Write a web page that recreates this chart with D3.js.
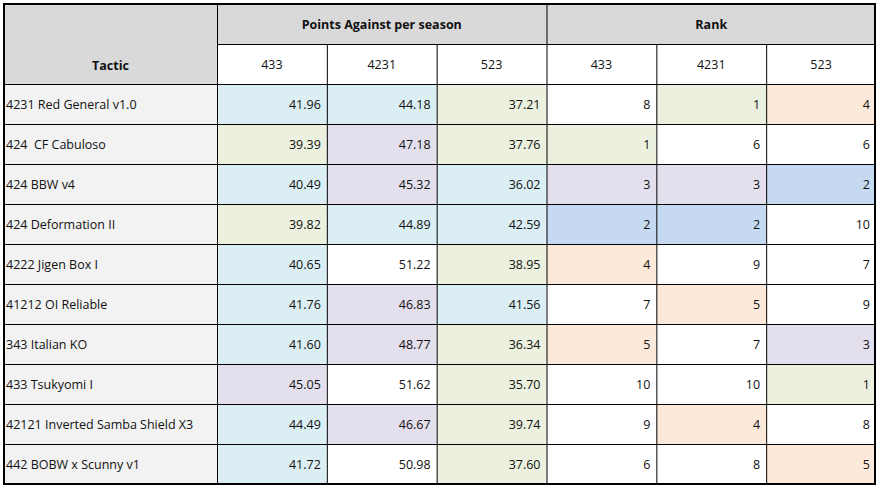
<!DOCTYPE html>
<html><head><meta charset="utf-8">
<script src="https://cdn.jsdelivr.net/npm/d3@7"></script>
<style>
body { margin: 0; background: #fff; }
text { font-family: "Open Sans", sans-serif; font-size: 12.5px; fill: #111; }
</style></head>
<body><svg id="chart" width="876" height="488"></svg>
<script>
const tactics = ["4231 Red General v1.0", "424  CF Cabuloso", "424 BBW v4", "424 Deformation II",
    "4222 Jigen Box I", "41212 OI Reliable", "343 Italian KO", "433 Tsukyomi I",
    "42121 Inverted Samba Shield X3", "442 BOBW x Scunny v1"];
const formations = ["433", "4231", "523"];
const points433 = [41.96, 39.39, 40.49, 39.82, 40.65, 41.76, 41.60, 45.05, 44.49, 41.72];
const points4231 = [44.18, 47.18, 45.32, 44.89, 51.22, 46.83, 48.77, 51.62, 46.67, 50.98];
const points523 = [37.21, 37.76, 36.02, 42.59, 38.95, 41.56, 36.34, 35.70, 39.74, 37.60];
const rank433 = [8, 1, 3, 2, 4, 7, 5, 10, 9, 6];
const rank4231 = [1, 6, 3, 2, 9, 5, 7, 10, 4, 8];
const rank523 = [4, 6, 2, 10, 7, 9, 3, 1, 8, 5];
// highlight classes per cell: c=cyan, g=green, p=purple, b=blue, o=orange, w=white
const shade = [
    "ccg wgo", "gpg gww", "cpc ppb", "gcc bbw", "cwg oww",
    "cpc wow", "cpg owp", "pwg wwg", "cpg wow", "cwg wwo"
];
const fills = { c: "#DAEEF3", g: "#EBF1DE", p: "#E4DFEC", b: "#C5D9F1", o: "#FDE9D9", w: "#FFFFFF" };

const svg = d3.select("#chart");
const x0 = 4, y0 = 4, x1 = 876, y1 = 484, tacticW = 213;
const headH = 80;

const x = d3.scaleBand().domain(d3.range(6)).range([x0 + tacticW, x1]);
const y = d3.scaleBand().domain(d3.range(tactics.length)).range([y0 + headH, y1]);

const cols = [points433, points4231, points523, rank433, rank4231, rank523];

// header
svg.append("rect").attr("x", x0).attr("y", y0).attr("width", x1 - x0).attr("height", headH / 2).attr("fill", "#D9D9D9");
svg.append("rect").attr("x", x0).attr("y", y0).attr("width", tacticW).attr("height", headH).attr("fill", "#D9D9D9");
svg.append("rect").attr("x", x0 + tacticW).attr("y", y0 + headH / 2).attr("width", x1 - x0 - tacticW).attr("height", headH / 2).attr("fill", "#fff");
svg.append("rect").attr("x", x0).attr("y", y0 + headH).attr("width", tacticW).attr("height", y1 - y0 - headH).attr("fill", "#F2F2F2");

// cells
const cells = [];
tactics.forEach((t, i) => cols.forEach((col, j) => {
    const code = shade[i].replace(" ", "")[j];
    cells.push({ i, j, v: col[i], fill: fills[code] });
}));

svg.append("g").selectAll("rect").data(cells).join("rect")
    .attr("x", d => x(d.j)).attr("y", d => y(d.i))
    .attr("width", x.bandwidth()).attr("height", y.bandwidth())
    .attr("fill", d => d.fill);

svg.append("g").selectAll("text").data(cells).join("text")
    .attr("x", d => x(d.j) + x.bandwidth() - 6)
    .attr("y", d => y(d.i) + y.bandwidth() / 2 + 5)
    .attr("text-anchor", "end")
    .text(d => d.j < 3 ? d.v.toFixed(2) : d.v);

svg.append("g").selectAll("text").data(tactics).join("text")
    .attr("x", x0 + 2)
    .attr("y", (d, i) => y(i) + y.bandwidth() / 2 + 5)
    .attr("xml:space", "preserve")
    .text(d => d);

// header texts
svg.append("text").attr("x", x0 + tacticW / 2).attr("y", y0 + 66).attr("text-anchor", "middle")
    .attr("font-weight", "bold").text("Tactic");
svg.append("text").attr("x", (x(0) + x(2) + x.bandwidth()) / 2).attr("y", y0 + 25).attr("text-anchor", "middle")
    .attr("font-weight", "bold").text("Points Against per season");
svg.append("text").attr("x", (x(3) + x1) / 2).attr("y", y0 + 25).attr("text-anchor", "middle")
    .attr("font-weight", "bold").text("Rank");
svg.append("g").selectAll("text").data(d3.range(6)).join("text")
    .attr("x", j => x(j) + x.bandwidth() / 2).attr("y", y0 + 65).attr("text-anchor", "middle")
    .text(j => formations[j % 3]);

// grid lines
const g = svg.append("g").attr("stroke", "#000").attr("stroke-width", 1);
y.domain().forEach(i => g.append("line").attr("x1", x0).attr("x2", x1).attr("y1", y(i) + 0.5).attr("y2", y(i) + 0.5));
g.append("line").attr("x1", x0 + tacticW).attr("x2", x1).attr("y1", y0 + headH / 2 + 0.5).attr("y2", y0 + headH / 2 + 0.5);
x.domain().forEach(j => g.append("line").attr("x1", x(j) + 0.5).attr("x2", x(j) + 0.5)
    .attr("y1", j % 3 === 0 ? y0 : y0 + headH / 2).attr("y2", y1));
svg.append("rect").attr("x", x0).attr("y", y0).attr("width", x1 - x0 - 1).attr("height", y1 - y0)
    .attr("fill", "none").attr("stroke", "#000").attr("stroke-width", 2);
</script></body></html>
